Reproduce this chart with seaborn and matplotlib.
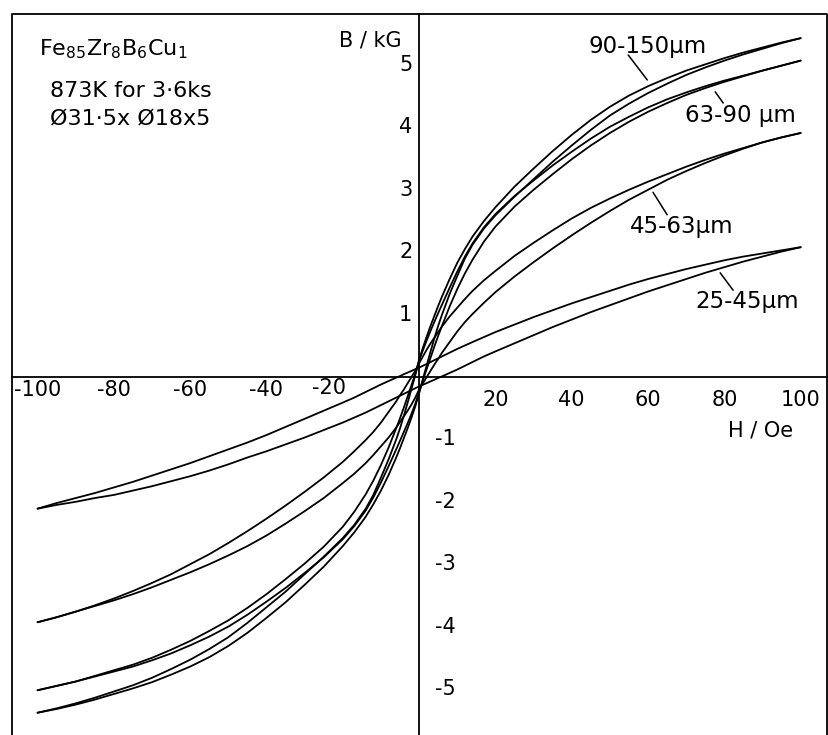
import matplotlib
matplotlib.use("Agg")
import matplotlib.pyplot as plt
import pandas as pd
import seaborn as sns

# ---------------- data ----------------
H = [-100, -95, -90, -85, -80, -75, -70, -65, -60, -55, -50, -45, -40, -35, -30, -25, -20, -17, -14, -12, -10, -8, -6, -5, -4, -3, -2, -1,
     0, 1, 2, 3, 4, 5, 6, 8, 10, 12, 14, 17, 20, 25, 30, 35, 40, 45, 50, 55, 60, 65, 70, 75, 80, 85, 90, 95, 100]

# 90-150 um loop
b90_150_desc = [-5.38, -5.31, -5.23, -5.14, -5.04, -4.94, -4.82, -4.68, -4.53, -4.36, -4.17, -3.94, -3.69, -3.44, -3.16, -2.88, -2.58, -2.37, -2.11, -1.89, -1.61, -1.32, -1.00, -0.82, -0.62, -0.41, -0.19, 0.03,
                0.28, 0.47, 0.65, 0.82, 0.98, 1.14, 1.29, 1.57, 1.83, 2.05, 2.25, 2.50, 2.72, 3.05, 3.34, 3.62, 3.88, 4.12, 4.33, 4.51, 4.66, 4.79, 4.91, 5.01, 5.11, 5.20, 5.28, 5.36, 5.43]
b90_150_asc = [-5.38, -5.32, -5.25, -5.17, -5.08, -4.99, -4.89, -4.77, -4.64, -4.49, -4.31, -4.10, -3.86, -3.61, -3.33, -3.04, -2.71, -2.49, -2.24, -2.04, -1.82, -1.57, -1.29, -1.14, -0.98, -0.82, -0.65, -0.47,
               -0.26, -0.03, 0.19, 0.41, 0.62, 0.82, 1.00, 1.33, 1.62, 1.90, 2.12, 2.38, 2.59, 2.89, 3.17, 3.45, 3.71, 3.96, 4.19, 4.38, 4.55, 4.70, 4.84, 4.96, 5.07, 5.17, 5.26, 5.35, 5.43]
# 63-90 um loop
b63_90_desc = [-5.02, -4.95, -4.88, -4.79, -4.70, -4.61, -4.50, -4.37, -4.23, -4.07, -3.90, -3.70, -3.48, -3.24, -2.99, -2.72, -2.40, -2.16, -1.88, -1.66, -1.41, -1.13, -0.82, -0.66, -0.49, -0.31, -0.13, 0.05,
               0.26, 0.43, 0.59, 0.74, 0.885, 1.025, 1.16, 1.43, 1.69, 1.93, 2.14, 2.40, 2.61, 2.90, 3.15, 3.39, 3.61, 3.82, 4.01, 4.17, 4.32, 4.45, 4.56, 4.66, 4.75, 4.83, 4.91, 4.99, 5.07]
b63_90_asc = [-5.02, -4.95, -4.88, -4.80, -4.72, -4.64, -4.54, -4.43, -4.30, -4.16, -4.00, -3.81, -3.60, -3.38, -3.14, -2.89, -2.60, -2.39, -2.14, -1.93, -1.69, -1.43, -1.16, -1.02, -0.88, -0.74, -0.59, -0.43,
              -0.24, -0.05, 0.13, 0.31, 0.49, 0.66, 0.82, 1.13, 1.41, 1.66, 1.88, 2.17, 2.41, 2.73, 3.00, 3.25, 3.49, 3.71, 3.91, 4.09, 4.25, 4.39, 4.52, 4.63, 4.73, 4.82, 4.91, 4.99, 5.07]
# 45-63 um loop
b45_63_desc = [-3.93, -3.85, -3.76, -3.66, -3.55, -3.43, -3.30, -3.16, -3.00, -2.84, -2.66, -2.47, -2.27, -2.06, -1.84, -1.61, -1.36, -1.19, -1.01, -0.88, -0.73, -0.56, -0.39, -0.29, -0.20, -0.10, 0.00, 0.10,
               0.22, 0.33, 0.44, 0.54, 0.63, 0.72, 0.81, 0.97, 1.11, 1.25, 1.38, 1.55, 1.70, 1.94, 2.15, 2.35, 2.54, 2.71, 2.86, 3.00, 3.13, 3.25, 3.37, 3.48, 3.58, 3.67, 3.76, 3.84, 3.91]
b45_63_asc = [-3.93, -3.85, -3.76, -3.67, -3.58, -3.48, -3.37, -3.25, -3.13, -3.00, -2.86, -2.71, -2.54, -2.35, -2.15, -1.94, -1.70, -1.55, -1.38, -1.25, -1.11, -0.97, -0.81, -0.72, -0.63, -0.54, -0.44, -0.33,
              -0.20, -0.10, 0.00, 0.10, 0.20, 0.29, 0.39, 0.56, 0.73, 0.88, 1.01, 1.19, 1.36, 1.61, 1.84, 2.06, 2.27, 2.47, 2.66, 2.84, 3.00, 3.16, 3.30, 3.43, 3.55, 3.66, 3.76, 3.84, 3.91]
# 25-45 um loop
b25_45_desc = [-2.11, -2.02, -1.94, -1.86, -1.77, -1.68, -1.58, -1.48, -1.38, -1.27, -1.16, -1.05, -0.93, -0.80, -0.67, -0.54, -0.41, -0.33, -0.24, -0.18, -0.12, -0.065, -0.01, 0.015, 0.045, 0.07, 0.098, 0.125,
               0.15, 0.18, 0.21, 0.24, 0.27, 0.30, 0.33, 0.39, 0.45, 0.505, 0.56, 0.64, 0.72, 0.84, 0.96, 1.07, 1.18, 1.28, 1.38, 1.48, 1.57, 1.65, 1.73, 1.80, 1.87, 1.93, 1.98, 2.03, 2.08]
b25_45_asc = [-2.11, -2.05, -2.00, -1.94, -1.89, -1.82, -1.75, -1.67, -1.59, -1.50, -1.40, -1.29, -1.19, -1.08, -0.97, -0.85, -0.73, -0.65, -0.57, -0.51, -0.45, -0.39, -0.33, -0.30, -0.27, -0.24, -0.21, -0.18,
              -0.15, -0.125, -0.098, -0.07, -0.045, -0.015, 0.01, 0.065, 0.12, 0.18, 0.24, 0.33, 0.41, 0.54, 0.67, 0.80, 0.92, 1.04, 1.15, 1.26, 1.37, 1.47, 1.57, 1.67, 1.76, 1.85, 1.93, 2.01, 2.08]

curves = {
    "90-150 desc": b90_150_desc, "90-150 asc": b90_150_asc,
    "63-90 desc": b63_90_desc, "63-90 asc": b63_90_asc,
    "45-63 desc": b45_63_desc, "45-63 asc": b45_63_asc,
    "25-45 desc": b25_45_desc, "25-45 asc": b25_45_asc,
}

x_ticks = [-100, -80, -60, -40, -20, 20, 40, 60, 80, 100]
y_ticks = [-5, -4, -3, -2, -1, 1, 2, 3, 4, 5]

rows = []
for name, vals in curves.items():
    assert len(vals) == len(H), (name, len(vals))
    for h, b in zip(H, vals):
        rows.append({"H": h, "B": b, "curve": name})
df = pd.DataFrame(rows)

# ---------------- figure ----------------
sns.set_style("white")
plt.rcParams["font.family"] = ["DejaVu Sans"]
plt.rcParams["text.color"] = "black"

W, Hpx = 829, 735
fig = plt.figure(figsize=(W / 100, Hpx / 100), dpi=100)
ax = fig.add_axes([12 / W, 0, 815 / W, 721 / Hpx])

sns.lineplot(data=df, x="H", y="B", units="curve", estimator=None, sort=False,
             color="black", lw=1.3, ax=ax, legend=False)

ax.set_xlim(-106.7, 106.9)
ax.set_ylim(-5.737, 5.817)
ax.set_xlabel("")
ax.set_ylabel("")

for s in ["top", "right"]:
    ax.spines[s].set_visible(False)
ax.spines["left"].set_position(("data", 0))
ax.spines["bottom"].set_position(("data", 0))
for s in ["left", "bottom"]:
    ax.spines[s].set_linewidth(1.3)
    ax.spines[s].set_color("black")

# outer frame
ax.plot([0, 0, 1, 1], [0, 1, 1, 0], transform=ax.transAxes, color="black",
        lw=1.3, clip_on=False)

ax.set_xticks(x_ticks)
ax.set_yticks(y_ticks)
ax.tick_params(direction="inout", length=11, width=1.2, color="black",
               labelbottom=False, labelleft=False)

fs = 15
for x in x_ticks:
    lab = f"{x}"
    if x > 0:
        ax.text(x, -0.37, lab, ha="center", va="center", fontsize=fs)
    elif x == -20:
        ax.text(x + 0.8, -0.18, lab, ha="right", va="center", fontsize=fs)
    else:
        ax.text(x, -0.21, lab, ha="center", va="center", fontsize=fs)
for y in y_ticks:
    if y > 0:
        ax.text(-1.8, y, f"{y}", ha="right", va="center", fontsize=fs)
    else:
        ax.text(4.2, y, f"{y}", ha="left", va="center", fontsize=fs)

ax.text(-4.5, 5.30, "B / kG", ha="right", va="baseline", fontsize=fs)
ax.text(81.0, -0.96, "H / Oe", ha="left", va="baseline", fontsize=fs)


def fx(px):
    return px / W


def fy(py):
    return 1 - py / Hpx


# sample description
fig.text(fx(39), fy(55), "Fe$_{85}$Zr$_{8}$B$_{6}$Cu$_{1}$", fontsize=16, va="baseline")
fig.text(fx(50), fy(97), "873K for 3·6ks", fontsize=16, va="baseline")
fig.text(fx(50), fy(125), "Ø31·5x Ø18x5", fontsize=16, va="baseline")

# curve labels with leader lines
labels = [
    ("90-150µm", 588, 53, (54.8, 5.16), (59.8, 4.76)),
    ("63-90 µm", 685, 122, (77.6, 4.57), (79.7, 4.39)),
    ("45-63µm", 630, 233, (61.3, 2.96), (65.0, 2.60)),
    ("25-45µm", 695, 308, (78.9, 1.67), (82.3, 1.39)),
]
for txt, px, py, p1, p2 in labels:
    fig.text(fx(px), fy(py), txt, fontsize=16.5, va="baseline")
    ax.plot([p1[0], p2[0]], [p1[1], p2[1]], color="black", lw=1.1)

fig.savefig("out.png", dpi=100)
